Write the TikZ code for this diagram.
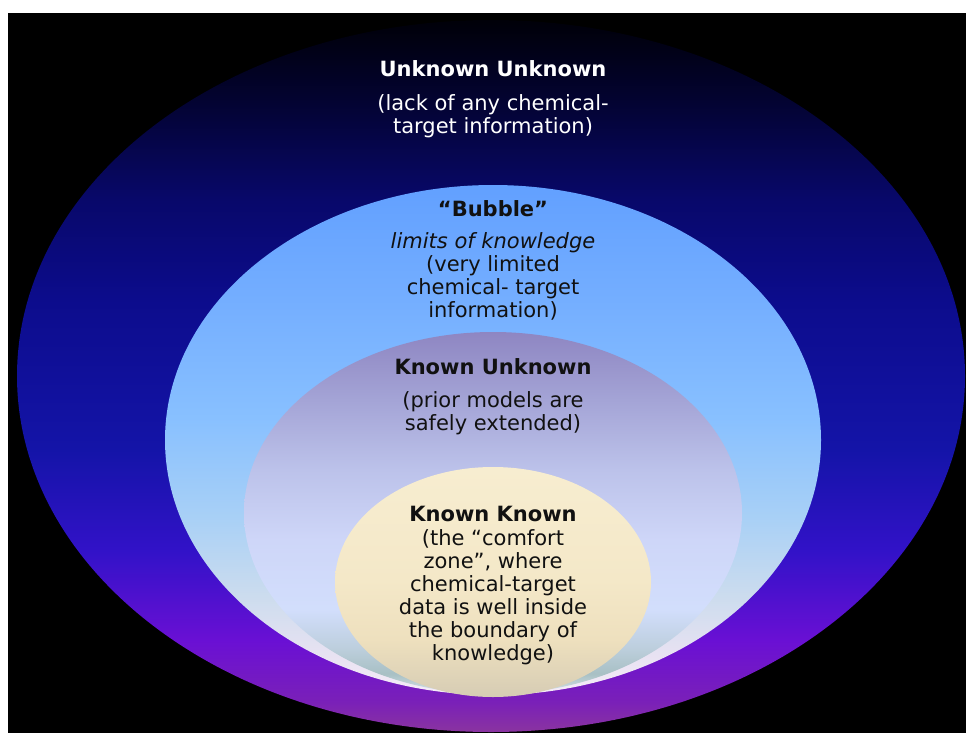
\documentclass[tikz,border=0pt]{standalone}
\usepackage{fontspec}
\setmainfont{DejaVu Sans}

% colour stops of the four nested regions (listed bottom to top)
\definecolor{ouA}{HTML}{8A34A0}
\definecolor{ouB}{HTML}{7A20B8}
\definecolor{ouC}{HTML}{6A10D4}
\definecolor{ouD}{HTML}{3212C8}
\definecolor{ouE}{HTML}{1414A8}
\definecolor{ouF}{HTML}{0C0C8C}
\definecolor{ouG}{HTML}{08086A}
\definecolor{ouH}{HTML}{030330}
\definecolor{ouI}{HTML}{000008}

\definecolor{bbA}{HTML}{F6ECF8}
\definecolor{bbB}{HTML}{E8E2F2}
\definecolor{bbC}{HTML}{CCDCEE}
\definecolor{bbD}{HTML}{A8D0F6}
\definecolor{bbE}{HTML}{88C0FF}
\definecolor{bbF}{HTML}{74AEFF}
\definecolor{bbG}{HTML}{62A0FF}

\definecolor{kuA}{HTML}{D8E4E8}
\definecolor{kuB}{HTML}{A8C0C4}
\definecolor{kuC}{HTML}{BCCEDC}
\definecolor{kuD}{HTML}{D2DEFC}
\definecolor{kuE}{HTML}{CED6F8}
\definecolor{kuF}{HTML}{BCC2EA}
\definecolor{kuG}{HTML}{A4A4D6}
\definecolor{kuH}{HTML}{8E86C2}

\definecolor{kkA}{HTML}{D6CCB4}
\definecolor{kkB}{HTML}{EEE0BE}
\definecolor{kkC}{HTML}{F4E8C8}
\definecolor{kkD}{HTML}{F7EDD0}

\definecolor{inktext}{HTML}{111111}

\pgfdeclareverticalshading{outerfill}{100bp}{%
  color(0bp)=(ouA); color(25bp)=(ouA); color(27.1bp)=(ouB); color(31.4bp)=(ouC);
  color(37.7bp)=(ouD); color(44.8bp)=(ouE); color(55.4bp)=(ouF);
  color(62.4bp)=(ouG); color(69.5bp)=(ouH); color(75bp)=(ouI); color(100bp)=(ouI)}
\pgfdeclareverticalshading{bubblefill}{100bp}{%
  color(0bp)=(bbA); color(25bp)=(bbA); color(28.9bp)=(bbB); color(34.7bp)=(bbC);
  color(42.5bp)=(bbD); color(52.2bp)=(bbE); color(63.8bp)=(bbF);
  color(75bp)=(bbG); color(100bp)=(bbG)}
\pgfdeclareverticalshading{kufill}{100bp}{%
  color(0bp)=(kuA); color(25bp)=(kuA); color(27.8bp)=(kuB); color(31.2bp)=(kuC);
  color(36.7bp)=(kuD); color(46.3bp)=(kuE); color(56bp)=(kuF);
  color(65.6bp)=(kuG); color(75bp)=(kuH); color(100bp)=(kuH)}
\pgfdeclareverticalshading{kkfill}{100bp}{%
  color(0bp)=(kkA); color(25bp)=(kkA); color(37.6bp)=(kkB); color(50.5bp)=(kkC);
  color(75bp)=(kkD); color(100bp)=(kkD)}

\tikzset{
  bodytext/.style={font=\fontsize{21}{23}\selectfont, align=center,
    inner sep=0pt, text=inktext},
  headtext/.style={bodytext, font=\fontsize{21}{23}\selectfont\bfseries},
}

\begin{document}
\begin{tikzpicture}[x=1pt,y=-1pt]
  \useasboundingbox (0,0) rectangle (966,733);
  \fill[white] (0,0) rectangle (966,733);
  \fill[black] (8,13) rectangle (966,733);

  % nested regions, outermost first
  \path[shading=outerfill] (491,376) ellipse [x radius=474, y radius=356];
  \path[shading=bubblefill] (493,440) ellipse [x radius=328, y radius=255];
  \path[shading=kufill] (493,513) ellipse [x radius=249, y radius=181];
  \path[shading=kkfill] (493,582) ellipse [x radius=158, y radius=115];

  % labels
  \node[headtext, text=white, anchor=base] (uutitle) at (493,77) {Unknown Unknown};
  \node[bodytext, text=white] (uubody) at (493,116)
    {(lack of any chemical-\\target information)};

  \node[headtext, anchor=base] (bbtitle) at (493,216) {“Bubble”};
  \node[bodytext] (bbbody) at (493,276)
    {\textit{limits of knowledge}\\(very limited\\chemical- target\\information)};

  \node[headtext, anchor=base] (kutitle) at (493,374) {Known Unknown};
  \node[bodytext] (kubody) at (493,413)
    {(prior models are\\safely extended)};

  \node[headtext, anchor=base] (kktitle) at (493,521) {Known Known};
  \node[bodytext] (kkbody) at (493,597)
    {(the “comfort\\zone”, where\\chemical-target\\data is well inside\\the boundary of\\knowledge)};
\end{tikzpicture}
\end{document}
